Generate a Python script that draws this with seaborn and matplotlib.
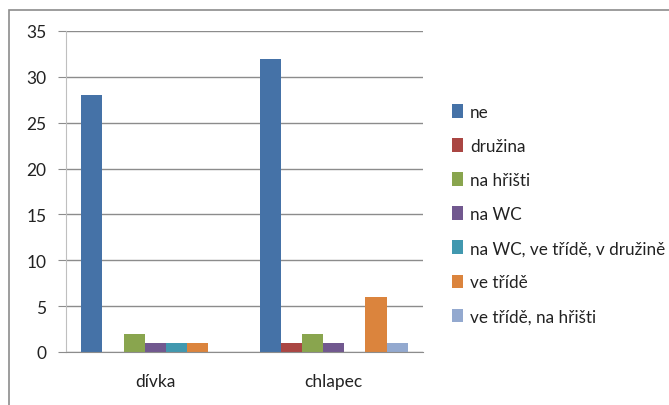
import pandas as pd
import matplotlib.pyplot as plt
import seaborn as sns
from matplotlib.patches import Rectangle


categories = ["dívka", "chlapec"]
series = ["ne", "družina", "na hřišti", "na WC", "na WC, ve třídě, v družině",
          "ve třídě", "ve třídě, na hřišti"]
divka = [28, 0, 2, 1, 1, 1, 0]
chlapec = [32, 1, 2, 1, 0, 6, 1]
colors = ["#4572A7", "#AA4643", "#89A54E", "#71588F", "#4198AF", "#DB843D", "#93A9CF"]

rows = []
for cat, vals in zip(categories, [divka, chlapec]):
    for s, v in zip(series, vals):
        rows.append({"kategorie": cat, "odpoved": s, "pocet": v})
df = pd.DataFrame(rows)

sns.set_style("white")
plt.rcParams["font.family"] = ["Lato", "DejaVu Sans"]

fig = plt.figure(figsize=(6.69, 4.06), dpi=100)
ax = fig.add_axes([66 / 669, 1 - 353 / 406, (423 - 66) / 669, (353 - 32) / 406])

sns.barplot(data=df, x="kategorie", y="pocet", hue="odpoved", order=categories,
            hue_order=series, palette=dict(zip(series, colors)), width=0.83,
            saturation=1, linewidth=0, ax=ax)

ax.set_xlim(-0.5, 1.5)
ax.set_ylim(0, 35)
ax.set_yticks(range(0, 36, 5))
ax.set_xlabel("")
ax.set_ylabel("")
ax.yaxis.grid(True, color="#8c8c8c", linewidth=1)
ax.set_axisbelow(True)

for side in ["top", "right"]:
    ax.spines[side].set_visible(False)
ax.spines["left"].set_color("#bfbfbf")
ax.spines["bottom"].set_color("#8c8c8c")

ax.set_xticks([-0.5, 0.5, 1.5], minor=True)
ax.tick_params(axis="x", which="major", length=0, pad=15, labelsize=12.5, labelcolor="#222222")
ax.tick_params(axis="x", which="minor", length=6, color="#8c8c8c", direction="out")
ax.tick_params(axis="y", length=6, color="#8c8c8c", direction="out", pad=8,
               labelsize=12.5, labelcolor="#222222", left=True)

sns.move_legend(ax, loc="upper left", bbox_to_anchor=(0.676, 0.742),
                bbox_transform=fig.transFigure, frameon=False, title=None,
                fontsize=12.3, labelspacing=1.06, handlelength=0.65, handleheight=0.85,
                handletextpad=0.4, borderpad=0, borderaxespad=0)
for t in ax.get_legend().get_texts():
    t.set_color("#222222")

# outer chart border like the original Excel frame
fig.patches.append(Rectangle((8.5 / 669, -0.05), 1.2, 1 - 11 / 406 + 0.05,
                             transform=fig.transFigure, fill=False,
                             edgecolor="#8c8c8c", linewidth=1.2))

fig.savefig("out.png", dpi=100)
